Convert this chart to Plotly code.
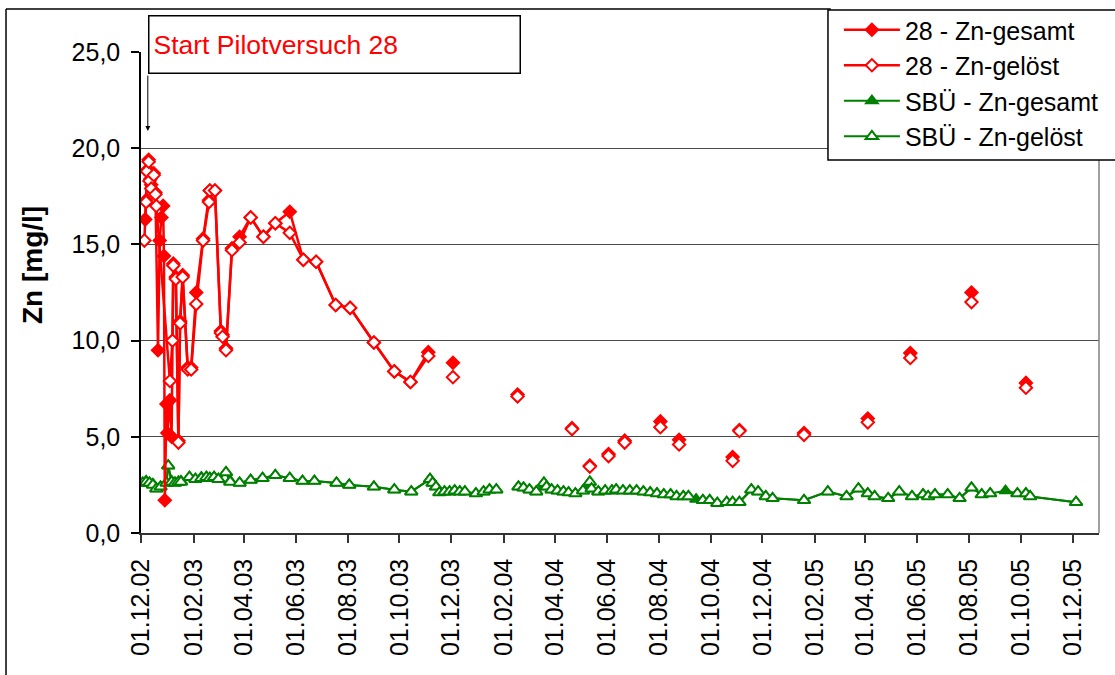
import plotly.graph_objects as go

# ---------------- data ----------------
# Pilot 28: continuous measurement run (connected line)
p28_ges_run_dates = ["2002-12-06", "2002-12-07", "2002-12-09", "2002-12-10", "2002-12-12", "2002-12-13",
                     "2002-12-16", "2002-12-18", "2002-12-21", "2002-12-23", "2002-12-25", "2002-12-27",
                     "2002-12-28", "2002-12-29", "2002-12-31", "2003-01-01", "2003-01-04", "2003-01-06",
                     "2003-01-08", "2003-01-11", "2003-01-14", "2003-01-16", "2003-01-19", "2003-01-25",
                     "2003-01-29", "2003-02-04", "2003-02-12", "2003-02-19", "2003-02-20", "2003-02-26",
                     "2003-03-05", "2003-03-07", "2003-03-11", "2003-03-18", "2003-03-27", "2003-04-09",
                     "2003-04-24", "2003-05-08", "2003-05-25", "2003-06-10", "2003-06-25", "2003-07-18",
                     "2003-08-04", "2003-09-01", "2003-09-25", "2003-10-14", "2003-11-04"]
p28_ges_run = [16.3, 17.3, 18.9, 19.4, 18.4, 18.1,
               18.7, 17.7, 9.5, 15.2, 16.4, 17.0,
               14.4, 1.7, 6.7, 5.2, 6.9, 5.0,
               14.0, 13.3, 4.8, 11.0, 13.4, 8.6,
               8.6, 12.5, 15.3, 17.3, 17.8, 17.8,
               10.5, 10.3, 9.6, 14.8, 15.4, 16.4,
               15.4, 16.1, 16.7, 14.2, 14.1, 11.85,
               11.7, 9.9, 8.4, 7.85, 9.4]

p28_gel_run_dates = ["2002-12-05", "2002-12-07", "2002-12-08", "2002-12-10", "2002-12-11", "2002-12-13",
                     "2002-12-16", "2002-12-18", "2002-12-19", "2003-01-04", "2003-01-07", "2003-01-08",
                     "2003-01-11", "2003-01-14", "2003-01-16", "2003-01-19", "2003-01-25", "2003-01-29",
                     "2003-02-04", "2003-02-12", "2003-02-19", "2003-02-20", "2003-02-26", "2003-03-05",
                     "2003-03-07", "2003-03-11", "2003-03-18", "2003-03-27", "2003-04-09", "2003-04-24",
                     "2003-05-08", "2003-05-25", "2003-06-10", "2003-06-25", "2003-07-18", "2003-08-04",
                     "2003-09-01", "2003-09-25", "2003-10-14", "2003-11-04"]
p28_gel_run = [15.2, 17.2, 18.8, 19.3, 18.3, 17.9,
               18.6, 17.6, 17.0, 7.9, 10.0, 13.9,
               13.2, 4.7, 10.9, 13.3, 8.5, 8.5,
               11.9, 15.2, 17.2, 17.8, 17.8, 10.4,
               10.2, 9.5, 14.7, 15.1, 16.4, 15.4,
               16.1, 15.6, 14.2, 14.1, 11.85, 11.7,
               9.9, 8.4, 7.85, 9.2]

# Pilot 28: later single readings (not connected)
p28_single_dates = ["2003-12-03", "2004-02-17", "2004-04-21", "2004-05-12", "2004-06-03", "2004-06-22",
                    "2004-08-03", "2004-08-25", "2004-10-27", "2004-11-04", "2005-01-19", "2005-04-04",
                    "2005-05-24", "2005-08-04", "2005-10-07"]
p28_single_ges = [8.85, 7.2, 5.45, 3.5, 4.1, 4.8, 5.8, 4.85, 3.95, 5.35, 5.2, 5.95, 9.35, 12.5, 7.8]
p28_single_gel = [8.1, 7.1, 5.4, 3.45, 4.0, 4.7, 5.5, 4.6, 3.75, 5.3, 5.1, 5.75, 9.1, 12.0, 7.55]

# SBÜ
sbu_dates = ["2002-12-03", "2002-12-07", "2002-12-11", "2002-12-15", "2002-12-19", "2002-12-24",
             "2002-12-31", "2003-01-02", "2003-01-06", "2003-01-10", "2003-01-14", "2003-01-17",
             "2003-01-27", "2003-02-03", "2003-02-10", "2003-02-16", "2003-02-20", "2003-02-25",
             "2003-03-02", "2003-03-11", "2003-03-16", "2003-03-27", "2003-04-09", "2003-04-23",
             "2003-05-08", "2003-05-25", "2003-06-09", "2003-06-23", "2003-07-19", "2003-08-03",
             "2003-09-01", "2003-09-25", "2003-10-15", "2003-11-06", "2003-11-09", "2003-11-13",
             "2003-11-17", "2003-11-23", "2003-11-29", "2003-12-05", "2003-12-11", "2003-12-17",
             "2003-12-30", "2004-01-08", "2004-01-15", "2004-01-23", "2004-02-05", "2004-02-18",
             "2004-02-24", "2004-03-02", "2004-03-10", "2004-03-19", "2004-03-22", "2004-03-28",
             "2004-04-04", "2004-04-11", "2004-04-17", "2004-04-25", "2004-05-04", "2004-05-12",
             "2004-05-14", "2004-05-22", "2004-05-30", "2004-06-07", "2004-06-12", "2004-06-20",
             "2004-06-28", "2004-07-06", "2004-07-14", "2004-07-22", "2004-07-30", "2004-08-07",
             "2004-08-15", "2004-08-22", "2004-08-30", "2004-09-05", "2004-09-14", "2004-09-22",
             "2004-09-30", "2004-10-09", "2004-10-20", "2004-10-27", "2004-11-04", "2004-11-18",
             "2004-11-26", "2004-12-05", "2004-12-13", "2005-01-19", "2005-02-16", "2005-03-10",
             "2005-03-24", "2005-04-04", "2005-04-12", "2005-04-28", "2005-05-11", "2005-05-26",
             "2005-06-08", "2005-06-14", "2005-06-22", "2005-07-07", "2005-07-21", "2005-08-04",
             "2005-08-16", "2005-08-26", "2005-09-13", "2005-09-27", "2005-10-07", "2005-10-12",
             "2005-12-05"]
sbu_gel = [2.6, 2.65, 2.6, 2.5, 2.3, 2.4,
           2.6, 3.5, 2.65, 2.6, 2.65, 2.65,
           2.9, 2.8, 2.85, 2.9, 2.85, 2.9,
           2.8, 3.15, 2.65, 2.6, 2.75, 2.85,
           3.0, 2.85, 2.7, 2.7, 2.6, 2.5,
           2.4, 2.25, 2.15, 2.8, 2.6, 2.4,
           2.1, 2.15, 2.15, 2.2, 2.15, 2.15,
           2.05, 2.15, 2.25, 2.25, None, 2.4,
           2.35, 2.25, 2.15, 2.6, 2.4, 2.25,
           2.2, 2.15, 2.1, 2.05, 2.2, 2.65,
           2.3, 2.15, 2.2, 2.2, 2.25, 2.2,
           2.2, 2.2, 2.15, 2.1, 2.05, 2.0,
           2.0, 1.9, 1.9, 1.9, None, 1.7,
           1.7, 1.55, 1.6, 1.6, 1.6, 2.25,
           2.15, 1.9, 1.8, 1.7, 2.15, 1.9,
           2.3, 2.05, 1.9, 1.8, 2.15, 1.9,
           2.0, 1.9, 2.0, 2.0, 1.8, 2.35,
           2.0, 2.05, None, 2.05, 2.05, 1.9,
           1.6]
sbu_ges = [2.6, 2.7, 2.6, 2.55, 2.3, 2.4,
           2.6, 3.5, 2.7, 2.6, 2.65, 2.7,
           2.9, 2.8, 2.9, 2.9, 2.85, 2.9,
           2.8, 3.15, 2.7, 2.6, 2.75, 2.85,
           3.0, 2.85, 2.7, 2.7, 2.6, 2.5,
           2.4, 2.25, 2.15, 2.8, 2.6, 2.4,
           2.1, 2.15, 2.15, 2.2, 2.15, 2.15,
           2.05, 2.15, 2.25, 2.25, None, 2.4,
           2.35, 2.25, 2.15, 2.6, 2.4, 2.25,
           2.2, 2.15, 2.1, 2.05, 2.2, 2.65,
           2.3, 2.15, 2.2, 2.2, 2.25, 2.2,
           2.2, 2.2, 2.15, 2.1, 2.05, 2.0,
           2.0, 1.9, 1.9, 1.9, 1.75, 1.7,
           1.7, 1.55, 1.6, 1.6, 1.6, 2.25,
           2.15, 1.9, 1.8, 1.7, 2.15, 1.9,
           2.3, 2.05, 1.9, 1.8, 2.15, 1.9,
           2.0, 1.9, 2.0, 2.0, 1.8, 2.35,
           2.0, 2.05, 2.2, 2.05, 2.05, 1.9,
           1.6]

series_names = ["28 - Zn-gesamt", "28 - Zn-gelöst", "SBÜ - Zn-gesamt", "SBÜ - Zn-gelöst"]
y_title = "Zn [mg/l]"
start_date = "2002-12-09"
start_label = "Start Pilotversuch 28"

RED = "#FF0000"
GREEN = "#008000"
FONT = "Arial, Liberation Sans, sans-serif"
FS = 25


def run_plus_singles(run_dates, run_vals, single_dates, single_vals):
    xs, ys = list(run_dates), list(run_vals)
    for d, v in zip(single_dates, single_vals):
        xs += [d, d]
        ys += [None, v]
    return xs, ys


x28g, y28g = run_plus_singles(p28_ges_run_dates, p28_ges_run, p28_single_dates, p28_single_ges)
x28l, y28l = run_plus_singles(p28_gel_run_dates, p28_gel_run, p28_single_dates, p28_single_gel)

fig = go.Figure()

fig.add_trace(go.Scatter(
    x=sbu_dates, y=sbu_ges, name=series_names[2], mode="lines+markers",
    line=dict(color=GREEN, width=2),
    marker=dict(symbol="triangle-up", size=11, color=GREEN, line=dict(color=GREEN, width=1.5)),
    legendrank=3, legendgroup="c"))
fig.add_trace(go.Scatter(
    x=sbu_dates, y=sbu_gel, name=series_names[3], mode="lines+markers",
    line=dict(color=GREEN, width=2),
    marker=dict(symbol="triangle-up", size=11, color="white", line=dict(color=GREEN, width=2)),
    legendrank=4, legendgroup="d"))
fig.add_trace(go.Scatter(
    x=x28g, y=y28g, name=series_names[0], mode="lines+markers",
    line=dict(color=RED, width=2.5),
    marker=dict(symbol="diamond", size=10, color=RED, line=dict(color=RED, width=1.5)),
    legendrank=1, legendgroup="a"))
fig.add_trace(go.Scatter(
    x=x28l, y=y28l, name=series_names[1], mode="lines+markers",
    line=dict(color=RED, width=2.5),
    marker=dict(symbol="diamond", size=9.5, color="white", line=dict(color=RED, width=2)),
    legendrank=2, legendgroup="b"))

fig.update_layout(
    width=1115, height=675,
    margin=dict(l=141, r=16, t=52, b=142, autoexpand=False),
    paper_bgcolor="white", plot_bgcolor="white",
    separators=",.",
    font=dict(family=FONT, size=FS, color="black"),
    showlegend=True,
    legend=dict(
        x=0.7285, y=1.0935, xanchor="left", yanchor="top",
        bgcolor="rgba(0,0,0,0)", borderwidth=0,
        font=dict(family=FONT, size=FS, color="black"),
        tracegroupgap=0, itemwidth=56, itemsizing="trace",
    ),
    xaxis=dict(
        type="date", range=["2002-12-01", "2006-01-01"],
        tick0="2002-12-01", dtick="M2", tickformat="%d.%m.%y",
        tickangle=-90, tickfont=dict(size=FS),
        ticks="outside", ticklen=8, tickwidth=1.5, tickcolor="#333",
        showline=True, linecolor="#333", linewidth=1.5,
        showgrid=False, zeroline=False, ticklabelstandoff=6, automargin=False,
    ),
    yaxis=dict(
        range=[0, 25], dtick=5, tick0=0, tickformat=".1f",
        tickfont=dict(size=FS),
        ticks="outside", ticklen=8, tickwidth=1.5, tickcolor="#000",
        showline=True, linecolor="#000", linewidth=1.5,
        showgrid=True, gridcolor="#4a4a4a", gridwidth=1,
        zeroline=False, ticklabelstandoff=6, automargin=False,
    ),
)

# y-axis title (placed slightly above the plot centre, as in the original)
fig.add_annotation(
    x=-0.1138, y=0.557, xref="paper", yref="paper", xanchor="center", yanchor="middle",
    text="<b>" + y_title + "</b>", textangle=-90, showarrow=False,
    font=dict(family=FONT, size=28, color="black"),
)

# start annotation box and arrow
fig.add_annotation(
    x=0.0073, y=1.0769, xref="paper", yref="paper", xanchor="left", yanchor="top",
    text=start_label, showarrow=False, align="left", valign="middle",
    font=dict(family=FONT, size=26.5, color=RED),
    bgcolor="white", bordercolor="black", borderwidth=1.5, borderpad=4,
    width=362, height=48,
)
fig.add_annotation(
    x=start_date, y=20.9, ax=start_date, ay=23.85, xref="x", yref="y", axref="x", ayref="y",
    text="", showarrow=True, arrowhead=2, arrowsize=1, arrowwidth=1, arrowcolor="black",
    standoff=0, startstandoff=0,
)

# plot area right border, outer chart frame and legend box
fig.add_shape(type="line", xref="paper", yref="paper", x0=1, x1=1, y0=0, y1=1,
              line=dict(color="#808080", width=1.5))
fig.add_shape(type="line", xref="paper", yref="paper", x0=-0.1409, x1=-0.1409, y0=-0.32, y1=1.0894,
              line=dict(color="black", width=1.5))
fig.add_shape(type="line", xref="paper", yref="paper", x0=-0.1409, x1=0.72, y0=1.0894, y1=1.0894,
              line=dict(color="black", width=1.5))
fig.add_shape(type="rect", xref="paper", yref="paper", x0=0.7171, x1=1.03, y0=0.7755, y1=1.0873,
              line=dict(color="black", width=1.5), fillcolor="white", layer="above")

fig.write_html("out.html", config={"displayModeBar": False},
               post_script="document.body.style.margin='0';")
